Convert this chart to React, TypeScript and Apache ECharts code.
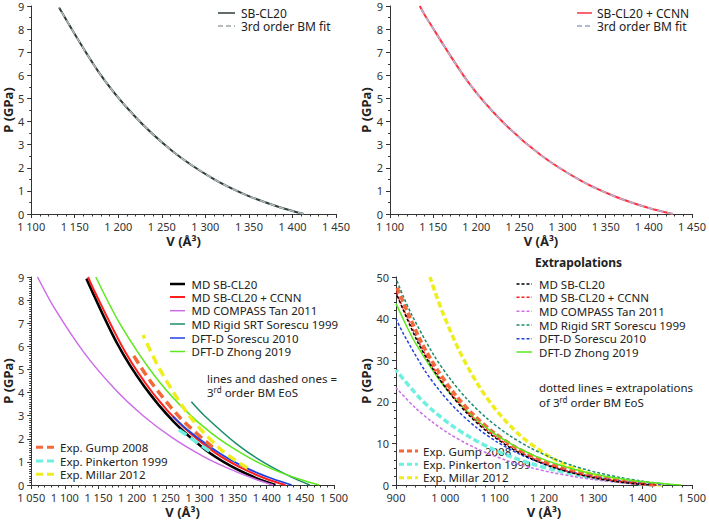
import React, { useEffect, useRef } from "react";
import * as echarts from "echarts";

// ---- data (V in Å^3, P in GPa) ----
const blackV = [1413, 1385.3, 1345.7, 1308.3, 1261.6, 1218.1, 1177.5, 1132, 1086.9, 1046.7, 1009.3, 974.5, 942, 900];
const blackP = [0, 0.29, 0.84, 1.54, 2.74, 4.26, 6.14, 8.93, 12.61, 16.91, 22.01, 27.97, 34.85, 46.17];
const redV = [1428, 1400, 1360, 1322.2, 1275, 1231, 1190, 1142.4, 1134.5, 1098.5, 1057.8, 1020, 984.8, 952, 909.6, 900];
const redP = [0, 0.26, 0.77, 1.42, 2.54, 3.97, 5.74, 8.48, 9.0, 11.85, 15.93, 20.77, 26.44, 32.99, 43.78, 46.65];
const compassV = [1410, 1382.4, 1342.9, 1305.6, 1258.9, 1215.5, 1175, 1128, 1084.6, 1059.4, 1044.4, 1007.1, 972.4, 940, 900];
const compassP = [0, 0.26, 0.72, 1.24, 2.06, 3.02, 4.13, 5.75, 7.65, 9.0, 9.85, 12.37, 15.24, 18.46, 23.37];
const rigidV = [1464, 1435.3, 1394.3, 1355.6, 1307.1, 1288, 1262.1, 1220, 1171.2, 1126.2, 1084.4, 1045.7, 1009.7, 976, 932.5, 915, 900];
const rigidP = [0, 0.36, 1.0, 1.77, 3.01, 3.6, 4.51, 6.31, 8.99, 12.21, 16.01, 20.43, 25.53, 31.34, 40.77, 45.31, 49.6];
const soreV = [1437, 1408.8, 1368.6, 1330.6, 1283, 1260.5, 1238.8, 1197.5, 1149.6, 1105.4, 1064.4, 1026.4, 991, 958, 915.3, 900];
const soreP = [0, 0.27, 0.75, 1.36, 2.37, 2.97, 3.63, 5.16, 7.48, 10.31, 13.69, 17.67, 22.29, 27.6, 36.28, 40.0];
const zhongV = [1478, 1449, 1407.6, 1368.5, 1319.6, 1274.1, 1231.7, 1182.4, 1146, 1136.9, 1094.8, 1055.7, 1019.3, 985.3, 941.4, 923.75, 900];
const zhongP = [0, 0.25, 0.7, 1.27, 2.2, 3.37, 4.79, 6.95, 9.0, 9.58, 12.72, 16.42, 20.72, 25.65, 33.73, 37.63, 43.6];
const gumpV = [1425, 1397.1, 1357.1, 1319.4, 1272.3, 1228.4, 1201.5, 1187.5, 1140, 1096.2, 1055.6, 1017.9, 982.8, 950, 900];
const gumpP = [0, 0.32, 0.9, 1.64, 2.88, 4.44, 5.63, 6.34, 9.24, 12.79, 17.05, 22.06, 27.91, 34.64, 48.0];
const pinkV = [1420, 1392.2, 1352.4, 1314.8, 1267.9, 1263.4, 1224.1, 1183.3, 1136, 1092.3, 1051.9, 1014.3, 979.3, 946.7, 900];
const pinkP = [0, 0.32, 0.85, 1.47, 2.42, 2.52, 3.53, 4.81, 6.68, 8.85, 11.36, 14.22, 17.45, 21.09, 27.6];
const millarV = [1440, 1411.8, 1371.4, 1333.3, 1285.7, 1241.4, 1216.3, 1200, 1152, 1107.7, 1066.7, 1028.6, 993.1, 968.8];
const millarP = [0, 0.21, 0.73, 1.5, 2.97, 4.99, 6.49, 7.63, 11.89, 17.32, 24.05, 32.2, 41.9, 50];

// measured ranges (V) of the solid / dashed parts in the lower-left panel
const blackRange = [1132, 1413];
const redRange = [1134.5, 1428];
const compassRange = [1059.4, 1410];
const rigidRange = [1288, 1464];
const soreRange = [1260.5, 1437];
const zhongRange = [1146, 1478];
const gumpRange = [1201.5, 1319.4];
const pinkRange = [1263.4, 1314.8];
const millarRange = [1216.3, 1371.4];

const FONT = '"Noto Sans", sans-serif';
const C = {
  black: "#000000",
  red: "#ff1f1f",
  compass: "#cc6ee8",
  rigid: "#1a8c6c",
  sore: "#2040e0",
  zhong: "#5ce81c",
  gump: "#f4693a",
  pink: "#6ef0e0",
  millar: "#eeee1e",
  p1: "#2e3b3b",
  p1fit: "#b4bcbc",
  p2: "#ff3040",
  p2fit: "#b0b8d8",
};

const fmt = (v: number) =>
  v >= 1000 ? `${Math.floor(v / 1000)} ${String(v % 1000).padStart(3, "0")}` : String(v);

const pairs = (V: number[], P: number[], r?: number[]) =>
  V.map((v, i) => [v, P[i]]).filter((d) => !r || (d[0] >= r[0] - 0.01 && d[0] <= r[1] + 0.01));

function ser(idx: number, data: number[][], color: string, width: number, type: any = "solid") {
  return {
    type: "line",
    xAxisIndex: idx,
    yAxisIndex: idx,
    data,
    showSymbol: false,
    symbol: "none",
    smooth: 0.3,
    silent: true,
    lineStyle: { color, width, type },
  };
}

function xAx(idx: number, min: number, max: number, interval: number, gap: number) {
  return {
    type: "value",
    gridIndex: idx,
    min,
    max,
    interval,
    name: "V (Å³)",
    nameLocation: "middle",
    nameGap: gap,
    nameTextStyle: { fontFamily: FONT, fontWeight: "bold", fontSize: 13, color: "#222" },
    axisLine: { show: true, lineStyle: { color: "#333", width: 1 } },
    axisTick: { show: true, length: 4, lineStyle: { color: "#333" } },
    minorTick: { show: true, splitNumber: 5, length: 2.5, lineStyle: { color: "#333" } },
    splitLine: { show: false },
    axisLabel: { fontFamily: FONT, fontSize: 11, color: "#333", margin: 7, formatter: fmt },
  };
}

function yAx(idx: number, max: number, interval: number, minor: number) {
  return {
    type: "value",
    gridIndex: idx,
    min: 0,
    max,
    interval,
    name: "P (GPa)",
    nameLocation: "middle",
    nameGap: 17,
    nameRotate: 90,
    nameTextStyle: { fontFamily: FONT, fontWeight: "bold", fontSize: 13, color: "#222" },
    axisLine: { show: true, lineStyle: { color: "#333", width: 1 } },
    axisTick: { show: true, length: 4, lineStyle: { color: "#333" } },
    minorTick: { show: true, splitNumber: minor, length: 2, lineStyle: { color: "#333" } },
    splitLine: { show: false },
    axisLabel: { fontFamily: FONT, fontSize: 11, color: "#333", margin: 7 },
  };
}

function legLine(x1: number, x2: number, y: number, color: string, width: number, dash?: number[]) {
  return {
    type: "line",
    silent: true,
    shape: { x1, y1: y, x2, y2: y },
    style: { stroke: color, lineWidth: width, lineDash: dash || null },
  };
}
function legText(x: number, y: number, text: string, size = 11.5, weight = "normal") {
  return {
    type: "text",
    silent: true,
    x,
    y,
    style: {
      text,
      fill: "#222",
      fontFamily: FONT,
      fontSize: size,
      fontWeight: weight,
      lineHeight: size,
      verticalAlign: "middle",
      align: "left",
    },
  };
}
function supText(x: number, y: number, before: string, sup: string, after: string) {
  return {
    type: "text",
    silent: true,
    x,
    y,
    style: {
      text: `{b|${before}}{s|${sup}}{b|${after}}`,
      fill: "#222",
      verticalAlign: "middle",
      align: "left",
      rich: {
        b: { fontFamily: FONT, fontSize: 11.5, fill: "#222", lineHeight: 13, verticalAlign: "bottom" },
        s: { fontFamily: FONT, fontSize: 8, fill: "#222", lineHeight: 13, verticalAlign: "top" },
      },
    },
  };
}

export default function App() {
  const ref = useRef<HTMLDivElement>(null);
  useEffect(() => {
    if (!ref.current) return;
    const chart = echarts.init(ref.current, undefined, { renderer: "svg" });
    const dot = [3, 2];
    const exDash = [7, 4];
    const legendRows3 = [284, 297, 310.7, 324, 338, 351.5];
    const legendRows4 = [284, 297.3, 311.3, 325, 338.7, 352];
    const modelItems = [
      ["MD SB-CL20", C.black, 2.5],
      ["MD SB-CL20 + CCNN", C.red, 2],
      ["MD COMPASS Tan 2011", C.compass, 1.5],
      ["MD Rigid SRT Sorescu 1999", C.rigid, 1.5],
      ["DFT-D Sorescu 2010", C.sore, 1.5],
      ["DFT-D Zhong 2019", C.zhong, 1.5],
    ] as [string, string, number][];
    const expItems = [
      ["Exp. Gump 2008", C.gump],
      ["Exp. Pinkerton 1999", C.pink],
      ["Exp. Millar 2012", C.millar],
    ];
    const graphic: any[] = [
      // panel 1 legend
      legLine(218, 235, 13, C.p1, 1.5),
      legText(241, 13, "SB-CL20", 12),
      legLine(218, 235, 26, C.p1fit, 2, [5, 3]),
      legText(241, 26, "3rd order BM fit", 12),
      // panel 2 legend
      legLine(577, 592, 13, C.p2, 1.5),
      legText(597, 13, "SB-CL20 + CCNN", 12),
      legLine(577, 592, 26, C.p2fit, 2, [5, 3]),
      legText(597, 26, "3rd order BM fit", 12),
      // panel 3 notes
      legText(207, 378, "lines and dashed ones ="),
      supText(207, 392, "3", "rd", " order BM EoS"),
      // panel 4 title / notes
      legText(535, 262.5, "Extrapolations", 12, "bold"),
      legText(539, 387.5, "dotted lines = extrapolations"),
      supText(539, 401.5, "of 3", "rd", " order BM EoS"),
    ];
    modelItems.forEach(([t, c, w], i) => {
      graphic.push(legLine(170, 185, legendRows3[i], c, w));
      graphic.push(legText(191.5, legendRows3[i], t));
      graphic.push(legLine(516.5, 532, legendRows4[i], c, 1.5, i === 5 ? undefined : dot));
      graphic.push(legText(539, legendRows4[i], t));
    });
    expItems.forEach(([t, c], i) => {
      graphic.push(legLine(36, 55, [447.3, 461, 474.3][i], c, 3, exDash));
      graphic.push(legText(60, [447.3, 461, 474.3][i], t));
      graphic.push(legLine(399, 418, [451, 464.3, 477.7][i], c, 3, [5, 3]));
      graphic.push(legText(423, [451, 464.3, 477.7][i], t));
    });

    chart.setOption({
      animation: false,
      backgroundColor: "#ffffff",
      grid: [
        { left: 31, top: 6, width: 305, height: 208 },
        { left: 390, top: 6, width: 305, height: 208 },
        { left: 31, top: 277, width: 303, height: 208 },
        { left: 396, top: 277, width: 299, height: 208 },
      ],
      xAxis: [
        xAx(0, 1100, 1450, 50, 20),
        xAx(1, 1100, 1450, 50, 20),
        xAx(2, 1050, 1500, 50, 20),
        xAx(3, 900, 1500, 100, 20),
      ],
      yAxis: [yAx(0, 9, 1, 2), yAx(1, 9, 1, 2), yAx(2, 9, 1, 10), yAx(3, 50, 10, 5)],
      series: [
        // panel 1
        ser(0, pairs(blackV, blackP, blackRange), C.p1, 2),
        ser(0, pairs(blackV, blackP, blackRange), C.p1fit, 1.5, [6, 4]),
        // panel 2
        ser(1, pairs(redV, redP, redRange), C.p2, 2),
        ser(1, pairs(redV, redP, redRange), C.p2fit, 1.5, [6, 4]),
        // panel 3
        ser(2, pairs(blackV, blackP, blackRange), C.black, 2.5),
        ser(2, pairs(redV, redP, redRange), C.red, 2),
        ser(2, pairs(compassV, compassP, compassRange), C.compass, 1.5),
        ser(2, pairs(rigidV, rigidP, rigidRange), C.rigid, 1.5),
        ser(2, pairs(soreV, soreP, soreRange), C.sore, 1.8),
        ser(2, pairs(zhongV, zhongP, zhongRange), C.zhong, 1.5),
        ser(2, pairs(gumpV, gumpP, gumpRange), C.gump, 3.5, [9, 5]),
        ser(2, pairs(pinkV, pinkP, pinkRange), C.pink, 3.5, [9, 5]),
        ser(2, pairs(millarV, millarP, millarRange), C.millar, 3.5, [9, 5]),
        // panel 4
        ser(3, pairs(pinkV, pinkP), C.pink, 3.5, [6, 3]),
        ser(3, pairs(millarV, millarP), C.millar, 3.5, [6, 3]),
        ser(3, pairs(gumpV, gumpP), C.gump, 3.5, [6, 3]),
        ser(3, pairs(compassV, compassP), C.compass, 1.5, dot),
        ser(3, pairs(rigidV, rigidP), C.rigid, 1.5, dot),
        ser(3, pairs(soreV, soreP), C.sore, 1.5, dot),
        ser(3, pairs(zhongV, zhongP), C.zhong, 1.5),
        ser(3, pairs(redV, redP), C.red, 1.5, dot),
        ser(3, pairs(blackV, blackP), C.black, 1.5, dot),
      ],
      graphic,
    });
    return () => chart.dispose();
  }, []);
  return (
    <div
      ref={ref}
      style={{ position: "fixed", left: 0, top: 0, width: 709, height: 521, background: "#fff" }}
    />
  );
}
